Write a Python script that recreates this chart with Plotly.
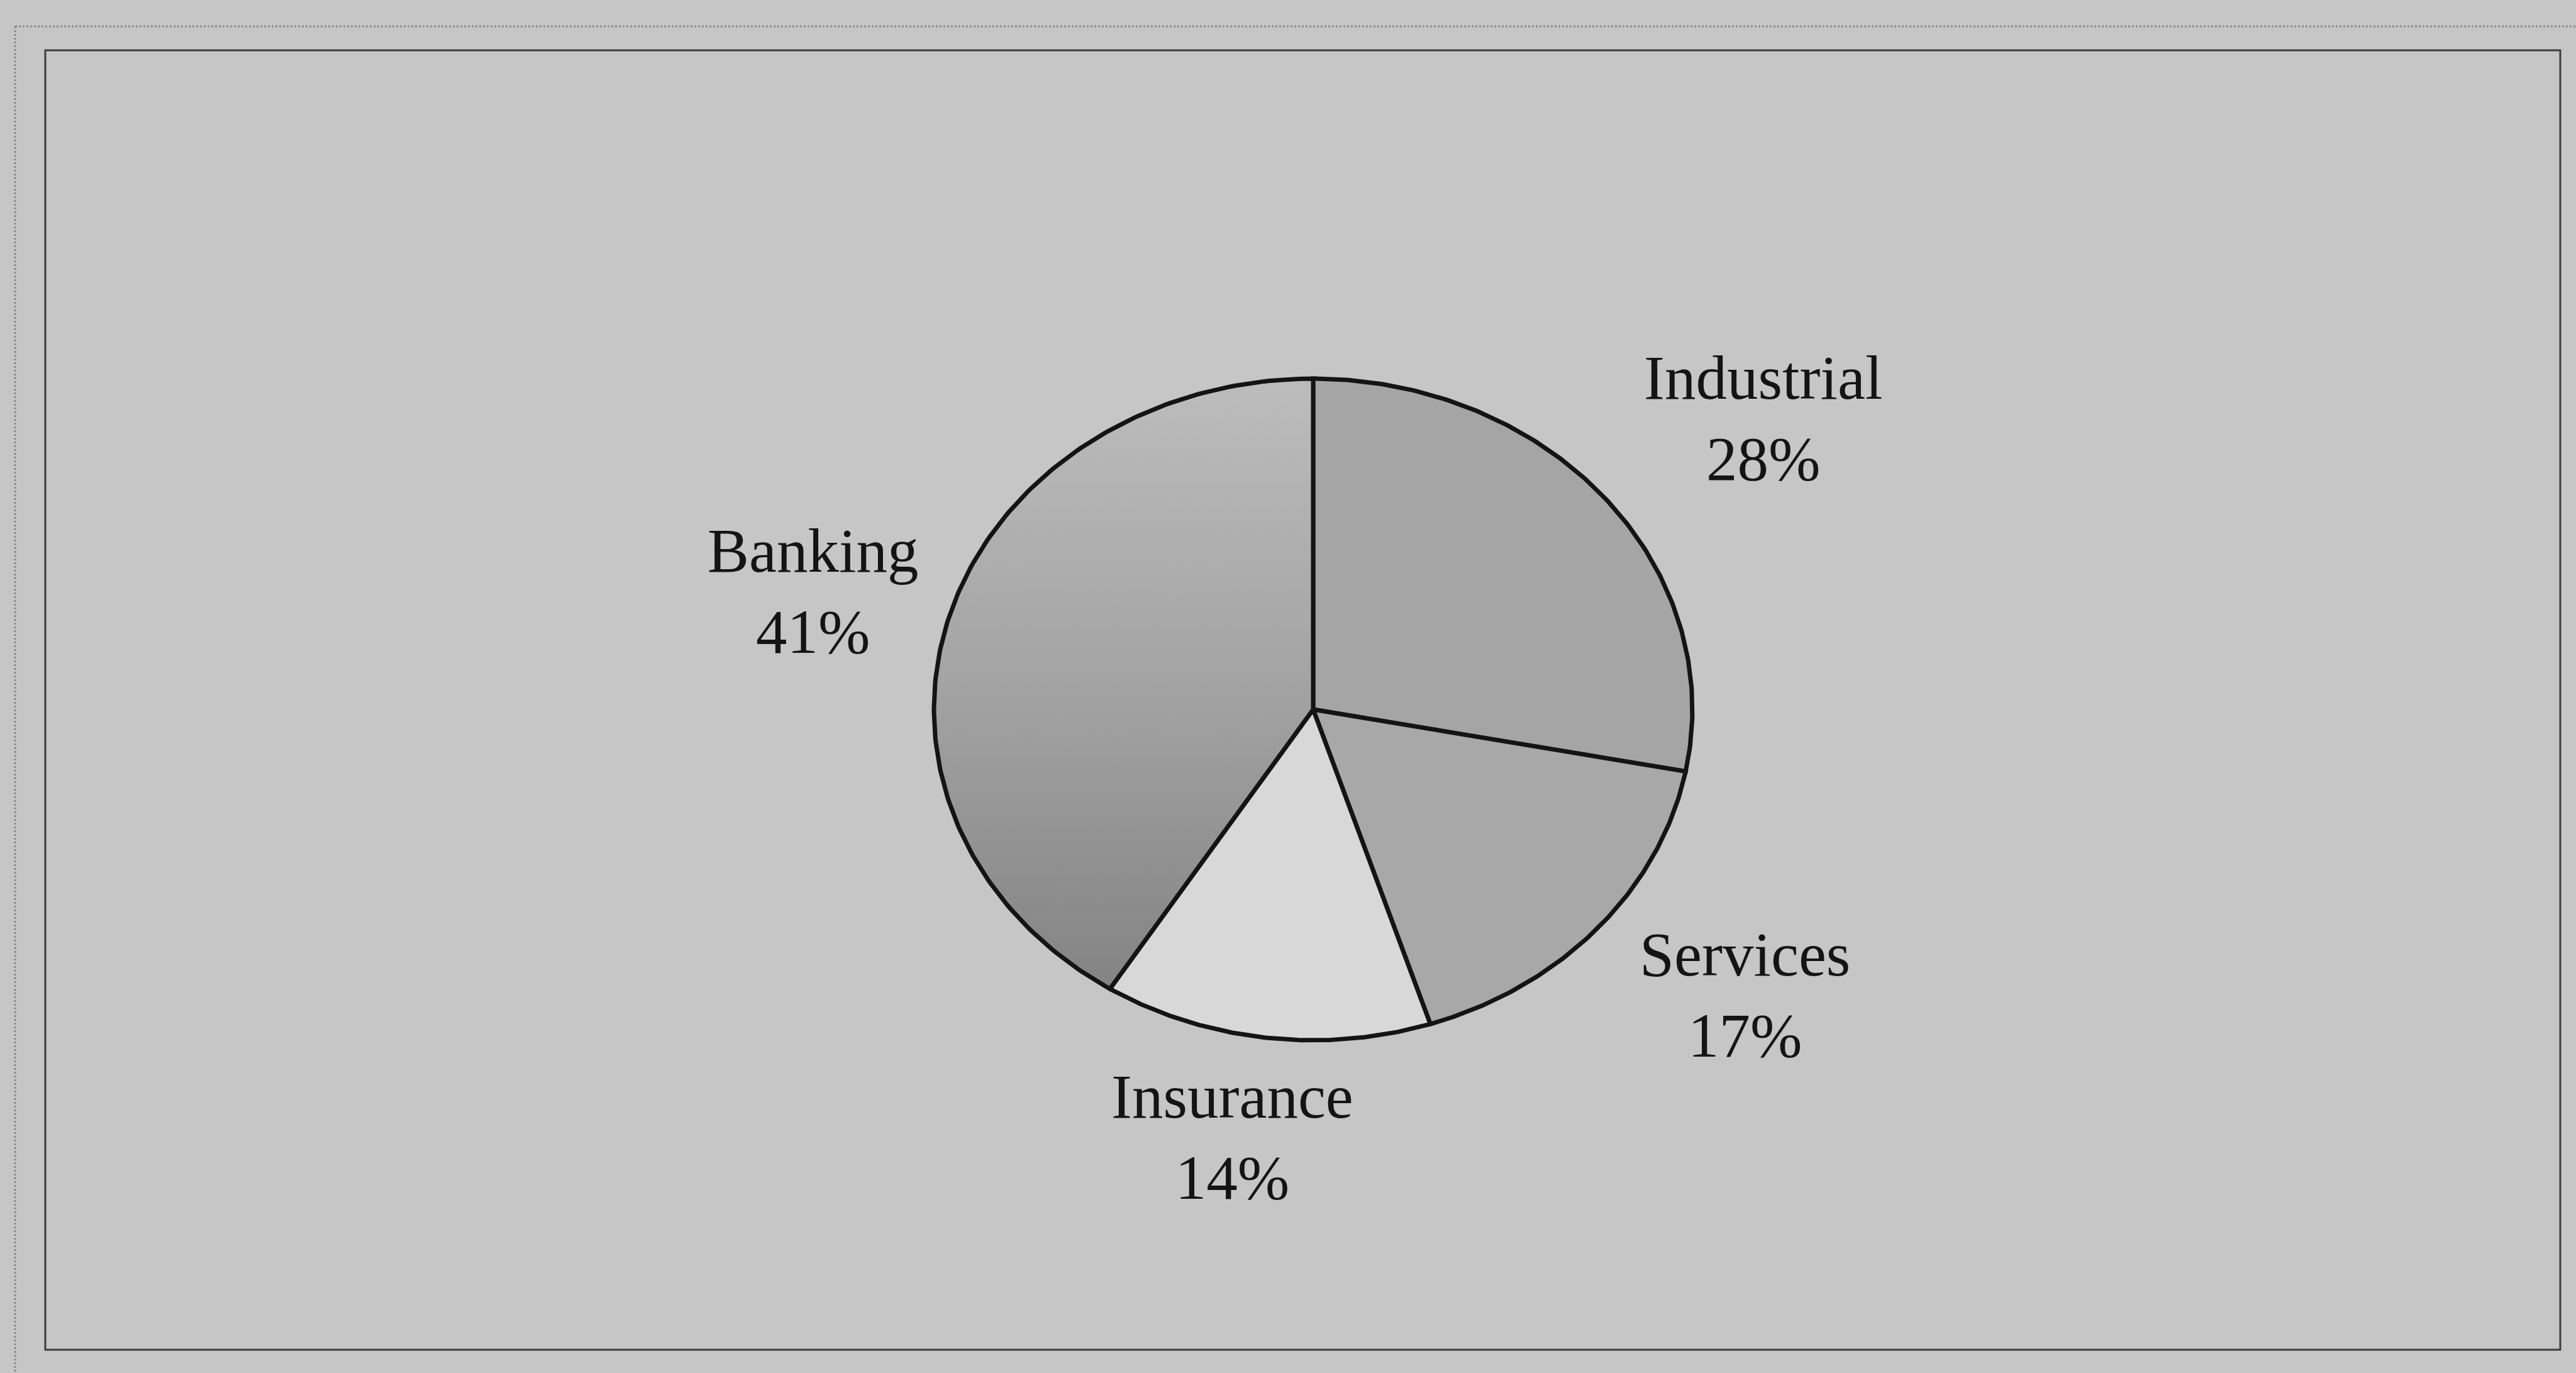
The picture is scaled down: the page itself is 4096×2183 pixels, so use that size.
import numpy as np
import plotly.graph_objects as go

# Sector shares, listed clockwise from twelve o'clock
sectors = ["Industrial", "Services", "Insurance", "Banking"]
shares = [28, 17, 14, 41]
fills = ["#a5a5a5", "#a8a8a8", "#d8d8d8", None]

W, H = 4096, 2183
cx, cy = 2088, 1128      # pie centre (px)
rx, ry = 603, 526        # pie radii (px), the pie is slightly oval
ink = "#141414"

fig = go.Figure()

total = float(sum(shares))
start = 0.0
for name, val, col in zip(sectors, shares, fills):
    a0 = start / total * 2 * np.pi
    a1 = (start + val) / total * 2 * np.pi
    t = np.linspace(a0, a1, 200)
    xs = np.concatenate([[cx], cx + rx * np.sin(t), [cx]])
    ys = np.concatenate([[cy], cy - ry * np.cos(t), [cy]])
    kw = dict(
        x=xs, y=ys, mode="lines", fill="toself", name=name,
        line=dict(color=ink, width=7), hoverinfo="name", showlegend=False,
    )
    if col is None:
        kw["fillgradient"] = dict(
            type="vertical",
            colorscale=[[0, "#bcbcbc"], [0.45, "#a4a4a4"], [1, "#7e7e7e"]],
            start=cy - ry, stop=cy + ry,
        )
    else:
        kw["fillcolor"] = col
    fig.add_trace(go.Scatter(**kw))
    start += val

# Category labels with their shares
label_pos = {
    "Industrial": (2803, 665),
    "Services": (2774, 1582),
    "Insurance": (1959, 1808),
    "Banking": (1292, 940),
}
for name, val in zip(sectors, shares):
    x, y = label_pos[name]
    fig.add_annotation(
        x=x, y=y, xref="x", yref="y", text=f"{name}<br>{val}%",
        showarrow=False, xanchor="center", yanchor="middle", align="center",
        font=dict(family="Liberation Serif", size=99, color=ink),
    )

# Chart frame and the dotted page edge
fig.add_shape(type="rect", xref="x", yref="y", x0=72, x1=4071, y0=80, y1=2146,
              line=dict(color="#3c3c3c", width=3))
fig.add_shape(type="line", xref="x", yref="y", x0=24, x1=W, y0=42, y1=42,
              line=dict(color="#8a8a8a", width=3, dash="dot"))
fig.add_shape(type="line", xref="x", yref="y", x0=24, x1=24, y0=42, y1=H,
              line=dict(color="#8a8a8a", width=3, dash="dot"))

fig.update_layout(
    width=W, height=H,
    margin=dict(l=0, r=0, t=0, b=0),
    paper_bgcolor="#c6c6c6", plot_bgcolor="#c6c6c6",
    xaxis=dict(range=[0, W], visible=False, fixedrange=True),
    yaxis=dict(range=[H, 0], visible=False, fixedrange=True),
)

fig.write_html("out.html")
